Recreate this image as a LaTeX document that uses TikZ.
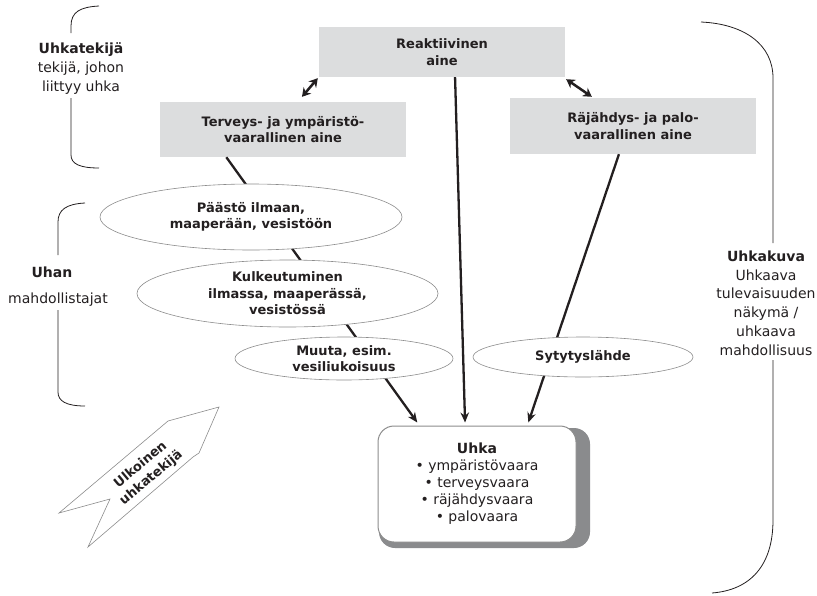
\documentclass[tikz,border=0pt]{standalone}
\usepackage{fontspec}
\setmainfont{DejaVu Sans}
\usetikzlibrary{shapes.geometric,arrows.meta,calc}
\definecolor{ink}{HTML}{231F20}
\definecolor{boxfill}{HTML}{DCDDDE}
\definecolor{shadowgray}{HTML}{8A8B8D}
\definecolor{edge}{HTML}{8C8C8C}
\tikzset{
  graybox/.style={fill=boxfill, draw=none, text=ink, align=center, inner sep=0pt,
    font=\fontsize{13}{16.5}\selectfont\bfseries},
  oval/.style={ellipse, draw=edge, line width=0.6pt, fill=white, text=ink, align=center,
    inner sep=0pt, font=\fontsize{13}{16.5}\selectfont\bfseries},
  txt/.style={text=ink, align=center, inner sep=0pt, font=\fontsize{14}{18.8}\selectfont},
  conn/.style={draw=ink, line width=2.3pt, -{Stealth[length=10pt,width=8.5pt]}},
  dbl/.style={draw=ink, line width=2.5pt, {Stealth[length=8.5pt,width=10pt]}-{Stealth[length=8.5pt,width=10pt]}},
  bracket/.style={draw=ink, line width=0.8pt},
}
\begin{document}
\begin{tikzpicture}[x=1pt,y=-1pt]
\useasboundingbox (0,0) rectangle (817,595);

% braces
\draw[bracket] (99,6) .. controls (80,7) and (71,12) .. (71,26) -- (71,33);
\draw[bracket] (71,98) -- (71,155) .. controls (71,164) and (80,168) .. (99,168);
\draw[bracket] (85,203) .. controls (66,204) and (58,210) .. (58,222) -- (58,255);
\draw[bracket] (58,310) -- (58,392) .. controls (58,401) and (66,406) .. (85,406);
\draw[bracket] (701,22) .. controls (745,24) and (773,45) .. (773,78) -- (773,243);
\draw[bracket] (773,360) -- (773,520) .. controls (773,566) and (750,590) .. (712,593);

% side labels
\node[txt] (uhkatekija) at (81,68.5) {\textbf{Uhkatekijä}\\tekijä, johon\\liittyy uhka};
\node[txt, font=\fontsize{14}{18.8}\selectfont\bfseries] (uhan) at (52,272) {Uhan};
\node[txt] (mahd) at (58,300) {mahdollistajat};
\node[txt] (uhkakuva) at (766,303) {\textbf{Uhkakuva}\\Uhkaava\\tulevaisuuden\\näkymä /\\uhkaava\\mahdollisuus};

% grey boxes
\node[graybox, minimum width=246pt, minimum height=50pt] (reakt) at (442,52) {Reaktiivinen\\aine};
\node[graybox, minimum width=246pt, minimum height=55pt] (terv) at (283,129.5) {Terveys- ja ympäristö-\\vaarallinen aine};
\node[graybox, minimum width=246pt, minimum height=56pt] (raj) at (633,126) {Räjähdys- ja palo-\\vaarallinen aine};

% threat box with shadow
\fill[shadowgray, rounded corners=16pt] (379,428) rectangle (590,548);
\node[draw=edge, line width=1pt, fill=white, rounded corners=16pt, minimum width=198pt, minimum height=116pt,
  txt, font=\fontsize{14}{17}\selectfont] (uhka) at (477,484)
  {\textbf{Uhka}\\• ympäristövaara\\• terveysvaara\\• räjähdysvaara\\• palovaara};

% connectors
\draw[conn] ($(terv.south west)!0.27!(terv.south east)$) -- ($(uhka.north west)!0.2!(uhka.north east)+(0,-3)$);
\draw[conn] ($(reakt.south west)!0.553!(reakt.south east)$) -- ($(uhka.north west)!0.44!(uhka.north east)+(0,-3)$);
\draw[conn] ($(raj.south west)!0.443!(raj.south east)$) -- ($(uhka.north west)!0.758!(uhka.north east)+(0,-3)$);
\draw[dbl] ($(reakt.south west)+(-1,1)$) -- ($(terv.north west)!0.577!(terv.north east)+(0,-5)$);
\draw[dbl] ($(reakt.south east)+(1,2)$) -- ($(raj.north west)!0.333!(raj.north east)+(0,-1)$);

% ellipses on top of the lines
\node[oval, minimum width=302pt, minimum height=66pt] (paasto) at (251,217) {Päästö ilmaan,\\maaperään, vesistöön};
\node[oval, minimum width=301pt, minimum height=67pt] (kulk) at (287.5,293.5) {Kulkeutuminen\\ilmassa, maaperässä,\\vesistössä};
\node[oval, minimum width=218pt, minimum height=43pt] (muuta) at (344,358.5) {Muuta, esim.\\vesiliukoisuus};
\node[oval, minimum width=220pt, minimum height=40pt] (syty) at (583,357) {Sytytyslähde};

% external threat arrow
\draw[draw=edge, line width=0.6pt, fill=white] (59,513) -- (168,421) -- (219,407) -- (199,453) -- (193,457) -- (88,547) -- (110,499) -- cycle;
\node[txt, rotate=40, font=\fontsize{13}{16.5}\selectfont\bfseries] (ulk) at (146,471.5) {Ulkoinen\\uhkatekijä};
\end{tikzpicture}
\end{document}
